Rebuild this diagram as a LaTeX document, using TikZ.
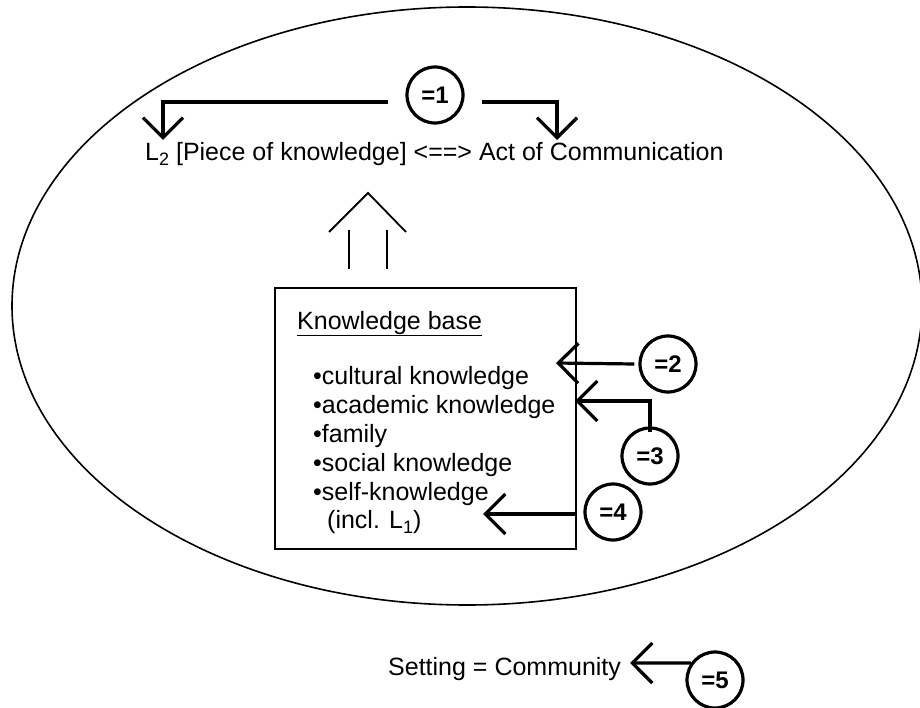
\documentclass[tikz,border=0pt]{standalone}
\usepackage{fontspec}
\setmainfont{Liberation Sans}
\usetikzlibrary{arrows.meta}
\begin{document}
\begin{tikzpicture}[x=1pt,y=-1pt,
  txt/.style={font=\fontsize{25}{29}\selectfont, inner sep=0pt, anchor=base west},
  num/.style={circle, draw, line width=3.2pt, minimum size=56pt, inner sep=0pt, font=\fontsize{24}{24}\selectfont\bfseries},
  arr/.style={line width=3.2pt, -{Straight Barb[length=20pt,width=40pt]}},
  thinline/.style={line width=1.6pt}]
\useasboundingbox (0,0) rectangle (920,708);
% community ellipse
\draw[thinline] (467,306) ellipse [x radius=455pt, y radius=299pt];
% top line
\node[txt] (main) at (145,161) {L\raisebox{-5pt}{\fontsize{18}{18}\selectfont 2} [Piece of knowledge] <==> Act of Communication};
\node[num] (c1) at (435,95) {=1};
\coordinate (tipL) at (163,140);
\coordinate (tipR) at (557,140);
\draw[arr] ([xshift=-17pt,yshift=-7pt]c1.west) -| (tipL);
\draw[arr] ([xshift=17pt,yshift=-7pt]c1.east) -| (tipR);
% hollow up arrow
\draw[line width=1.8pt] (329,232) -- (368,193) -- (406,232);
\draw[line width=2.3pt] (349,230) -- (349,269);
\draw[line width=2.3pt] (387,230) -- (387,269);
% knowledge base box
\node[draw, thinline, minimum width=301pt, minimum height=261pt, inner sep=0pt] (kb) at (425.5,418.5) {};
\node[txt] (kbt) at (297,329) {\underline{Knowledge base}};
\node[txt] (b1) at (313,384) {•cultural knowledge};
\node[txt] (b2) at (313,413) {•academic knowledge};
\node[txt] (b3) at (313,442) {•family};
\node[txt] (b4) at (313,471) {•social knowledge};
\node[txt] (b5) at (313,500) {•self-knowledge};
\node[txt] (b6) at (327,528) {(incl. L\raisebox{-5pt}{\fontsize{18}{18}\selectfont 1})};
% numbered influences
\node[num] (c2) at (668,364) {=2};
\coordinate (tip2) at (556,363);
\draw[arr] ([xshift=-4pt]c2.west) -- (tip2);
\node[num] (c3) at (650,456) {=3};
\coordinate (tip3) at (575,401);
\draw[arr] ([yshift=-6pt]c3.north) |- (tip3);
\node[num] (c4) at (613,512) {=4};
\coordinate (tip4) at (483,514);
\draw[arr] (kb.east |- tip4) -- (tip4);
% setting
\node[txt] (set) at (388,675) {Setting = Community};
\node[num] (c5) at (715,680) {=5};
\coordinate (tip5) at (630,663);
\draw[arr] (c5.145) -- (tip5);
\end{tikzpicture}
\end{document}
